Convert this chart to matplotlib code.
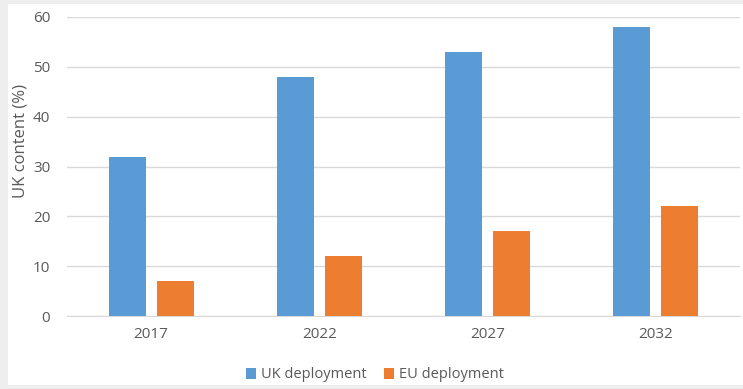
import matplotlib
matplotlib.use("Agg")
import matplotlib.pyplot as plt
import numpy as np
from matplotlib.patches import Rectangle

categories = ["2017", "2022", "2027", "2032"]
uk_values = [32, 48, 53, 58]
eu_values = [7, 12, 17, 22]
series_names = ["UK deployment", "EU deployment"]

plt.rcParams['font.family'] = ['Open Sans', 'DejaVu Sans']
text_color = "#595959"

W, H = 743, 389
fig = plt.figure(figsize=(W/100, H/100), dpi=100)
fig.patch.set_facecolor("#eeeeee")
bg = Rectangle((8/W, 4/H), (W-8)/W, (H-8)/H, transform=fig.transFigure,
               facecolor="white", edgecolor="none", zorder=-10)
fig.add_artist(bg)

ax = fig.add_axes([67/W, 73/H, 673/W, 299/H])
ax.set_zorder(1)
ax.set_facecolor("none")
x = np.arange(len(categories))
bw = 0.22
off = 0.143
ax.bar(x - off, uk_values, bw, color="#5B9BD5", label=series_names[0], zorder=3)
ax.bar(x + off, eu_values, bw, color="#ED7D31", label=series_names[1], zorder=3)

ax.set_xlim(-0.5, len(categories) - 0.5)
ax.set_ylim(0, 60)
ax.set_yticks(range(0, 61, 10))
ax.set_xticks(x)
ax.set_xticklabels(categories)
ax.grid(axis="y", color="#d9d9d9", linewidth=1, zorder=0)
for s in ["top", "right", "left"]:
    ax.spines[s].set_visible(False)
ax.spines["bottom"].set_color("#d9d9d9")
ax.tick_params(axis="both", length=0, labelsize=11, colors=text_color)
ax.tick_params(axis="y", pad=12)
ax.tick_params(axis="x", pad=8)
fig.text(20.5/W, 1 - 141/H, "UK content (%)", rotation=90, ha="center", va="center",
         fontsize=12, color=text_color)

leg = fig.legend(loc="center", bbox_to_anchor=(375/W, 1 - 375/H), ncol=2, frameon=False,
                 fontsize=10.5, handlelength=0.7, handleheight=0.7, handletextpad=0.35,
                 columnspacing=1.2, labelcolor=text_color)
leg.set_zorder(2)
fig.savefig("out.png", dpi=100, facecolor=fig.get_facecolor())
